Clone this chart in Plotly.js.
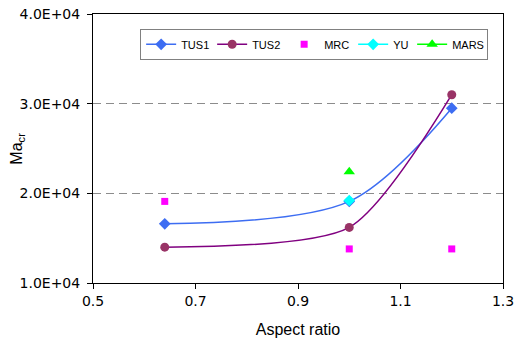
<!DOCTYPE html>
<html>
<head>
<meta charset="utf-8">
<script src="https://cdn.plot.ly/plotly-3.0.1.min.js"></script>
<style>
  html, body { margin: 0; padding: 0; background: #fff; }
  #chart { width: 514px; height: 343px; }
</style>
</head>
<body>
<div id="chart"></div>
<script>
// Critical Marangoni number against cavity aspect ratio
const tus1X = [0.64, 1.0, 1.2];
const tus1Y = [16600, 19100, 29500];
const tus2X = [0.64, 1.0, 1.2];
const tus2Y = [14000, 16200, 31000];
const mrcX = [0.64, 1.0, 1.2];
const mrcY = [19100, 13800, 13800];
const yuX = [1.0];
const yuY = [19200];
const marsX = [1.0];
const marsY = [22400];

const xTickVals = [0.5, 0.7, 0.9, 1.1, 1.3];
const xTickText = ['0.5', '0.7', '0.9', '1.1', '1.3'];
const yTickVals = [10000, 20000, 30000, 40000];
const yTickText = ['1.0E+04', '2.0E+04', '3.0E+04', '4.0E+04'];

const traces = [
  {
    name: 'TUS1', x: tus1X, y: tus1Y, type: 'scatter', mode: 'lines+markers',
    line: { color: '#3d6df2', width: 1.5, shape: 'spline', smoothing: 0.9 },
    marker: { symbol: 'diamond', size: 9, color: '#3d6df2' },
    legendwidth: 26
  },
  {
    name: 'TUS2', x: tus2X, y: tus2Y, type: 'scatter', mode: 'lines+markers',
    line: { color: '#800080', width: 1.5, shape: 'spline', smoothing: 0.7 },
    marker: { symbol: 'circle', size: 9, color: '#993366' },
    legendwidth: 27
  },
  {
    name: 'MRC', x: mrcX, y: mrcY, type: 'scatter', mode: 'markers',
    marker: { symbol: 'square', size: 7, color: '#ff00ff' },
    legendwidth: 24
  },
  {
    name: 'YU', x: yuX, y: yuY, type: 'scatter', mode: 'lines+markers',
    line: { color: '#00ffff', width: 1.5 },
    marker: { symbol: 'diamond', size: 9, color: '#00ffff' },
    legendwidth: 14
  },
  {
    name: 'MARS', x: marsX, y: marsY, type: 'scatter', mode: 'lines+markers',
    line: { color: '#00ff00', width: 1.5 },
    marker: { symbol: 'triangle-up', size: 10, color: '#00ff00' },
    legendwidth: 30
  }
];

const tickFont = { family: 'DejaVu Sans, Arial, sans-serif', size: 14, color: '#000' };

const layout = {
  width: 514,
  height: 343,
  margin: { l: 93, r: 11, t: 14, b: 60 },
  paper_bgcolor: '#fff',
  plot_bgcolor: '#fff',
  showlegend: true,
  legend: {
    orientation: 'h',
    x: 0.115, y: 0.945, xanchor: 'left', yanchor: 'top',
    bgcolor: '#fff', bordercolor: '#808080', borderwidth: 1,
    font: { family: 'Liberation Sans, Arial, sans-serif', size: 11, color: '#000' },
    itemwidth: 30
  },
  xaxis: {
    range: [0.5, 1.3],
    tickvals: xTickVals, ticktext: xTickText,
    ticks: 'outside', ticklen: 5, tickcolor: '#000',
    showgrid: false, zeroline: false,
    showline: true, linecolor: '#000', linewidth: 1, mirror: true,
    tickfont: tickFont, automargin: false, ticklabeloverflow: 'allow',
    title: { text: 'Aspect ratio', font: { family: 'Liberation Sans, Arial, sans-serif', size: 16, color: '#000' }, standoff: 16 }
  },
  yaxis: {
    range: [10000, 40000],
    tickvals: yTickVals, ticktext: yTickText,
    ticks: 'outside', ticklen: 5, tickcolor: '#000',
    showgrid: true, gridcolor: '#8c8c8c', gridwidth: 1, griddash: '8px,5px',
    zeroline: false,
    showline: true, linecolor: '#000', linewidth: 1, mirror: true,
    tickfont: tickFont, automargin: false, ticklabeloverflow: 'allow',
    ticklabelstandoff: 4
  },
  annotations: [
    {
      text: 'Ma<sub>cr</sub>', xref: 'paper', yref: 'paper',
      x: -0.185, y: 0.5, xanchor: 'center', yanchor: 'middle',
      textangle: -90, showarrow: false,
      font: { family: 'Liberation Sans, Arial, sans-serif', size: 16, color: '#000' }
    }
  ]
};

Plotly.newPlot('chart', traces, layout, { displayModeBar: false, staticPlot: true });
</script>
</body>
</html>
